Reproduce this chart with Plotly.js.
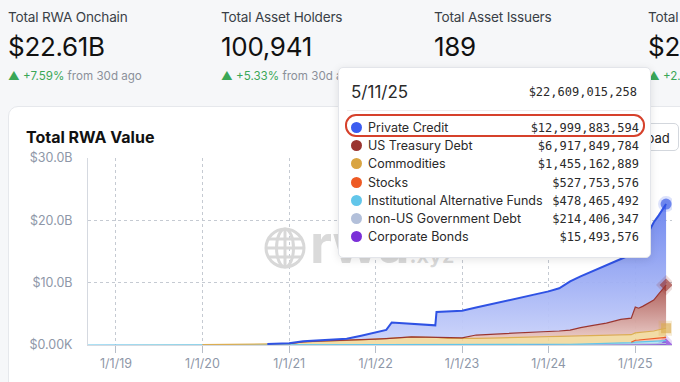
<!DOCTYPE html>
<html><head><meta charset="utf-8">
<script src="https://cdn.plot.ly/plotly-3.0.1.min.js"></script>
<style>
html,body{margin:0;padding:0;width:680px;height:382px;overflow:hidden;background:#f6f7f9;font-family:Inter,"Noto Sans",sans-serif;}
#card{position:absolute;left:8px;top:106px;width:720px;height:320px;background:#fff;border:1px solid #e6e8ec;border-radius:10px;}
.lab{position:absolute;top:9px;font-size:13.6px;color:#3a3f47;white-space:nowrap;letter-spacing:-0.2px}
.val{position:absolute;top:31px;font-size:26px;color:#111;white-space:nowrap;letter-spacing:-0.3px}
.chg{position:absolute;top:69px;font-size:11.6px;white-space:nowrap;color:#8b9099}
.up{color:#3aa757}
#plot{position:absolute;left:0;top:0;width:680px;height:382px;}
#btn{position:absolute;left:599px;top:123px;width:80px;height:28px;border:1px solid #d3d7dd;border-radius:5px;background:#fff;font-size:13px;line-height:28px;text-align:center;color:#222;box-sizing:border-box}
#wm{position:absolute;left:0;top:0;width:680px;height:382px;pointer-events:none}
#tip{position:absolute;left:338px;top:67px;width:313px;height:191px;background:#fff;border:1px solid #e3e5ea;border-radius:5px;box-shadow:0 2px 8px rgba(0,0,0,0.10);box-sizing:border-box}
#tip .d{position:absolute;left:12px;top:14px;font-size:17px;color:#2a2a2a}
#tip .t{position:absolute;right:13px;top:17px;font-family:"DejaVu Sans Mono",monospace;font-size:12px;color:#2a2a2a}
#tip .div{position:absolute;left:8px;right:8px;top:42px;height:1px;background:#f1eded}
#tip .hl{position:absolute;left:6px;top:46px;width:300px;height:23px;border:2px solid #d6412b;border-radius:11px;box-sizing:border-box}
.row{position:absolute;left:0;width:313px;height:18px}
.row .dot{position:absolute;left:12px;top:3px;width:11px;height:11px;border-radius:50%}
.row .nm{position:absolute;left:29px;top:0;font-size:12.5px;line-height:18px;color:#2a2a2a;white-space:nowrap}
.row .vv{position:absolute;right:13px;top:0;font-family:"DejaVu Sans Mono",monospace;font-size:12px;line-height:18px;color:#2a2a2a}
</style></head>
<body>
<div id="card"></div>
<div id="stats"></div>
<div id="btn">Download</div>
<div id="plot"></div>
<svg id="wm" width="680" height="382">
  <defs><clipPath id="wmclip"><path d="M0 0 H338 V258 H680 V382 H0 Z"/></clipPath></defs>
  <g clip-path="url(#wmclip)">
  <g fill="none" stroke="#d8d8d8" stroke-width="3">
    <circle cx="285" cy="248" r="19"/>
    <ellipse cx="285" cy="248" rx="8.5" ry="19"/>
    <line x1="285" y1="229" x2="285" y2="267"/>
    <line x1="266" y1="248" x2="304" y2="248"/>
    <line x1="269" y1="239" x2="301" y2="239"/>
    <line x1="269" y1="257" x2="301" y2="257"/>
  </g>
  <text x="310" y="263" fill="#dadada" font-family="Inter, sans-serif" font-weight="700" font-size="54">rwa<tspan font-size="22" font-weight="600">.xyz</tspan></text>
  </g>
</svg>
<div id="tip"></div>
<script>
// ---------- header stats ----------
const statLabels = ["Total RWA Onchain","Total Asset Holders","Total Asset Issuers","Total"];
const statValues = ["$22.61B","100,941","189","$2"];
const statChanges = ["+7.59%","+5.33%","","+2."];
const statChangeTail = [" from 30d ago"," from 30d ago","",""];

// ---------- chart data (values in $B) ----------
const dates = ['2018-09-01','2019-01-01','2019-06-01','2020-01-01','2020-06-01','2020-10-01',
'2021-01-01','2021-03-01','2021-05-01','2021-07-01','2021-09-01','2021-11-01',
'2022-01-01','2022-02-15','2022-03-10','2022-04-01','2022-06-01','2022-08-01','2022-09-10','2022-09-15','2022-11-01',
'2023-01-01','2023-03-01','2023-05-01','2023-07-01','2023-09-01','2023-11-01',
'2024-01-01','2024-02-15','2024-04-01','2024-05-15','2024-07-01','2024-09-01','2024-11-01','2024-12-15',
'2025-01-01','2025-01-15','2025-02-01','2025-03-01','2025-03-20','2025-04-10','2025-04-25','2025-05-11'];
const corporateBonds = [0,0,0,0,0,0, 0,0,0,0,0,0, 0,0,0,0,0,0,0,0,0, 0,0,0,0,0.005,0.006,
 0.008,0.008,0.009,0.01,0.01,0.011,0.012,0.012, 0.013,0.013,0.014,0.014,0.014,0.015,0.015,0.015494];
const nonUSGovDebt = [0,0,0,0,0,0, 0,0,0,0,0,0, 0,0,0,0,0,0,0,0,0, 0,0,0,0,0,0,
 0.03,0.035,0.04,0.05,0.06,0.07,0.1,0.12, 0.15,0.15,0.16,0.18,0.19,0.2,0.21,0.214406];
const instAltFunds = [0,0,0,0,0,0, 0,0,0,0,0,0, 0,0,0,0,0,0,0,0,0, 0,0,0,0.02,0.03,0.04,
 0.05,0.06,0.07,0.08,0.1,0.14,0.2,0.25, 0.3,0.32,0.35,0.4,0.42,0.45,0.46,0.478465];
const stocks = [0,0,0,0,0,0, 0,0,0,0,0,0, 0,0,0,0,0,0,0,0,0, 0,0,0,0,0,0,
 0,0,0,0,0,0,0,0.05, 0.3,0.32,0.35,0.4,0.42,0.47,0.5,0.527754];
const commodities = [0.01,0.02,0.03,0.05,0.07,0.12, 0.22,0.48,0.6,0.66,0.73,0.82,
 0.92,1.0,1.08,1.15,1.25,1.22,1.2,1.2,1.05, 1.0,1.05,1.1,1.13,1.115,1.154,
 1.162,1.197,1.231,1.26,1.28,1.279,1.238,1.218, 1.187,1.197,1.176,1.156,1.206,1.315,1.415,1.455163];
const usTreasury = [0,0,0,0,0,0, 0.01,0.01,0.01,0.01,0.01,0.02,
 0.02,0.03,0.03,0.04,0.04,0.05,0.05,0.05,0.1, 0.15,0.55,0.6,0.65,0.75,0.8,
 0.85,0.95,1.05,1.4,1.65,2.0,2.55,2.65, 4.15,3.9,4.15,4.65,4.95,5.75,6.3,6.91785];
const privateCredit = [0,0.005,0.01,0.02,0.03,0.04, 0.06,0.1,0.15,0.15,0.25,0.65,
 1.15,1.4,2.5,2.35,2.1,1.95,1.9,4.05,4.2, 4.35,4.4,4.8,5.3,5.7,6.0,
 6.5,6.85,7.8,8.2,8.7,9.3,9.7,10.2, 10.3,10.4,10.7,11.5,12.5,12.6,12.7,12.999884];
// first date index at which each series' line is shown
const seriesStart = [25, 27, 0, 34, 3, 6, 5]; // corp, nonUS, inst, stocks, comm, treas, priv

const xTickVals = ['2019-01-01','2020-01-01','2021-01-01','2022-01-01','2023-01-01','2024-01-01','2025-01-01'];
const xTickLabels = ['1/1/19','1/1/20','1/1/21','1/1/22','1/1/23','1/1/24','1/1/25'];
const yTickVals = [0,10,20,30];
const yTickLabels = ['$0.00K','$10.0B','$20.0B','$30.0B'];

// ---------- tooltip data ----------
const tipDate = '5/11/25';
const tipTotal = 22609015258;
const tipNames = ['Private Credit','US Treasury Debt','Commodities','Stocks','Institutional Alternative Funds','non-US Government Debt','Corporate Bonds'];
const tipValues = [12999883594,6917849784,1455162889,527753576,478465492,214406347,15493576];
const tipColors = ['#3b5cf0','#9a3530','#d9a542','#ee5a24','#62c6ea','#b3c0da','#7b30d8'];

// ---------- build header ----------
const statX = [8,221,434,648];
const st = document.getElementById('stats');
statLabels.forEach((l,i)=>{
  const x = statX[i];
  st.insertAdjacentHTML('beforeend',
   `<div class="lab" style="left:${x}px">${l}</div><div class="val" style="left:${x}px">${statValues[i]}</div>` +
   (statChanges[i] ? `<div class="chg" style="left:${x}px"><span class="up">&#9650; ${statChanges[i]}</span>${statChangeTail[i]}</div>` : ''));
});

// ---------- build tooltip ----------
const tip = document.getElementById('tip');
const fmt = v => '$' + v.toLocaleString('en-US');
tip.insertAdjacentHTML('beforeend', `<div class="d">${tipDate}</div><div class="t">${fmt(tipTotal)}</div><div class="div"></div><div class="hl"></div>`);
tipNames.forEach((n,i)=>{
  tip.insertAdjacentHTML('beforeend',
   `<div class="row" style="top:${51 + i*18.2}px"><div class="dot" style="background:${tipColors[i]}"></div><div class="nm">${n}</div><div class="vv">${fmt(tipValues[i])}</div></div>`);
});

// ---------- chart ----------
// stacking order bottom -> top
const series = [
  {name:'Corporate Bonds', y:corporateBonds, color:'#7b30d8', fill:'rgba(123,48,216,0.3)', marker:{symbol:'diamond', size:10, halo:'rgba(123,48,216,0.25)'}},
  {name:'non-US Government Debt', y:nonUSGovDebt, color:'#b3c0da', fill:'rgba(179,192,218,0.5)'},
  {name:'Institutional Alternative Funds', y:instAltFunds, color:'#62c6ea', fill:'rgba(98,198,234,0.45)'},
  {name:'Stocks', y:stocks, color:'#ee5a24', fill:'rgba(238,90,36,0.35)'},
  {name:'Commodities', y:commodities, color:'#dcae52', fill:'rgba(240,214,150,0.85)', marker:{symbol:'square', size:10, halo:'rgba(217,165,66,0.3)'}},
  {name:'US Treasury Debt', y:usTreasury, color:'#9a3530', fill:'rgba(190,120,115,0.8)',
     grad:{type:'vertical', start:0, stop:9.6e9, colorscale:[[0,'rgba(240,214,210,0.95)'],[1,'rgba(170,85,80,0.95)']]},
     marker:{symbol:'diamond', size:10, halo:'rgba(154,53,48,0.25)'}},
  {name:'Private Credit', y:privateCredit, color:'#2f52e4', lw:2, fill:'rgba(130,150,240,0.8)',
     grad:{type:'vertical', start:0, stop:22.6e9, colorscale:[[0,'rgba(205,213,250,0.95)'],[1,'rgba(105,130,238,0.95)']]},
     marker:{symbol:'circle', size:11, halo:'rgba(59,92,240,0.25)'}}
];

const traces = [];
// area fills (stacked by the library)
series.forEach(s => {
  const t = {type:'scatter', mode:'none', name:s.name, x:dates, y:s.y.map(v=>v*1e9),
    stackgroup:'rwa', fillcolor:s.fill, hoverinfo:'skip'};
  if (s.grad) t.fillgradient = s.grad;
  traces.push(t);
});
// top-edge lines of each band, shown only where the series exists
const cum = dates.map(()=>0);
const n = dates.length;
series.forEach((s, k) => {
  s.y.forEach((v,i)=>{ cum[i] += v; });
  const ys = cum.map((c,i)=> i >= seriesStart[k] ? c*1e9 : null);
  const t = {type:'scatter', mode:'lines', x:dates, y:ys, line:{color:s.color, width:s.lw || 1.2},
    hoverinfo:'skip', showlegend:false};
  if (s.marker) {
    t.mode = 'lines+markers';
    t.marker = {symbol:s.marker.symbol, color:s.color, size:dates.map((d,i)=> i===n-1 ? s.marker.size : 0),
      line:{color:s.marker.halo, width:dates.map((d,i)=> i===n-1 ? 5 : 0)}};
  }
  traces.push(t);
});

const axisFont = {family:'Inter, sans-serif', size:12.5, color:'#8e97a8'};
const layout = {
  width:680, height:382,
  margin:{l:88, r:8, t:157.5, b:37, pad:0},
  paper_bgcolor:'rgba(0,0,0,0)', plot_bgcolor:'rgba(0,0,0,0)',
  showlegend:false, hovermode:false,
  title:{text:'<b>Total RWA Value</b>', x:26/680, xanchor:'left', y:1-137/382, yanchor:'middle',
         font:{family:'Inter, sans-serif', size:16, color:'#111'}},
  xaxis:{type:'date', range:['2018-09-05','2025-06-05'], tickmode:'array', tickvals:xTickVals, ticktext:xTickLabels,
         showgrid:true, gridcolor:'#c5cad2', griddash:'3px,3px', gridwidth:1,
         showline:true, linecolor:'#d5d9e0', linewidth:1, ticks:'outside', ticklen:7, tickcolor:'#b8bec8',
         tickfont:axisFont, zeroline:false, fixedrange:true},
  yaxis:{range:[0,30e9], tickmode:'array', tickvals:yTickVals.map(v=>v*1e9), ticktext:yTickLabels,
         showgrid:true, gridcolor:'#c5cad2', griddash:'3px,3px', gridwidth:1,
         showline:true, linecolor:'#d5d9e0', linewidth:1, ticks:'', ticklabelstandoff:12,
         tickfont:axisFont, zeroline:false, fixedrange:true}
};
Plotly.newPlot('plot', traces, layout, {displayModeBar:false, staticPlot:true});
</script>
</body></html>
